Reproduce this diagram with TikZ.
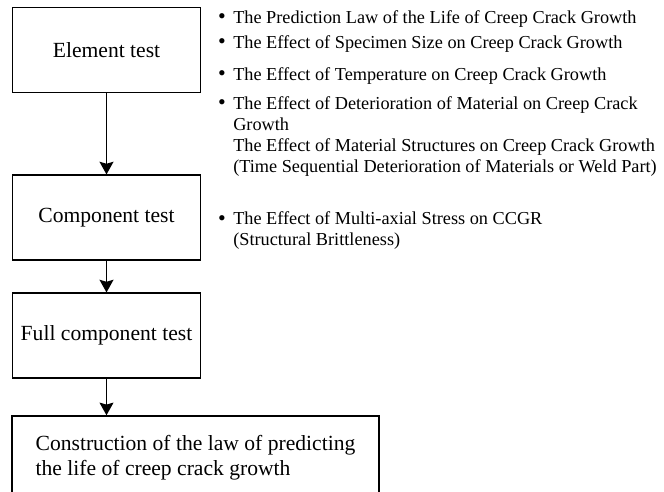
\documentclass[tikz,border=0pt]{standalone}
\usepackage{fontspec}
\setmainfont{Liberation Serif}
\usetikzlibrary{arrows.meta}
\begin{document}
\begin{tikzpicture}[x=0.75pt,y=-0.75pt,
  box/.style={draw,line width=1.1pt,minimum width=141pt,minimum height=63.5pt,inner sep=0pt,font=\fontsize{16.2}{19}\selectfont},
  item/.style={anchor=base west,inner sep=0pt,align=left,font=\fontsize{13.7}{15.75}\selectfont},
  dot/.style={anchor=base,inner sep=0pt,font=\fontsize{16.5}{18}\selectfont},
  flow/.style={line width=1pt,-{Stealth[length=9.5pt,width=10.5pt,inset=1.5pt]}}]
\useasboundingbox (0,0) rectangle (664,492);

\node[box] (e) at (106.5,50) {Element test};
\node[box] (c) at (106.5,217.5) {Component test};
\node[box] (f) at (106.5,335.5) {Full component test};
\node[box,minimum width=275.25pt,minimum height=63pt,align=left,
      font=\fontsize{16.2}{18.75}\selectfont] (k) at (195.5,458)
  {Construction of the law of predicting\\the life of creep crack growth};

\draw[flow] (e.south) -- (c.north);
\draw[flow] (c.south) -- (f.north);
\draw[flow] (f.south) -- (f.south |- k.north);

\node[dot] (b1) at (222,24) {\textbullet};
\node[item] (t1) at (233,24) {The Prediction Law of the Life of Creep Crack Growth};
\node[dot] (b2) at (222,49) {\textbullet};
\node[item] (t2) at (233,49) {The Effect of Specimen Size on Creep Crack Growth};
\node[dot] (b3) at (222,80) {\textbullet};
\node[item] (t3) at (233,80) {The Effect of Temperature on Creep Crack Growth};
\node[dot] (b4) at (222,109) {\textbullet};
\node[item] (t4) at (233,172) {The Effect of Deterioration of Material on Creep Crack\\Growth\\The Effect of Material Structures on Creep Crack Growth\\(Time Sequential Deterioration of Materials or Weld Part)};
\node[dot] (b5) at (222,225) {\textbullet};
\node[item] (t5) at (233,245) {The Effect of Multi-axial Stress on CCGR\\(Structural Brittleness)};
\end{tikzpicture}
\end{document}
